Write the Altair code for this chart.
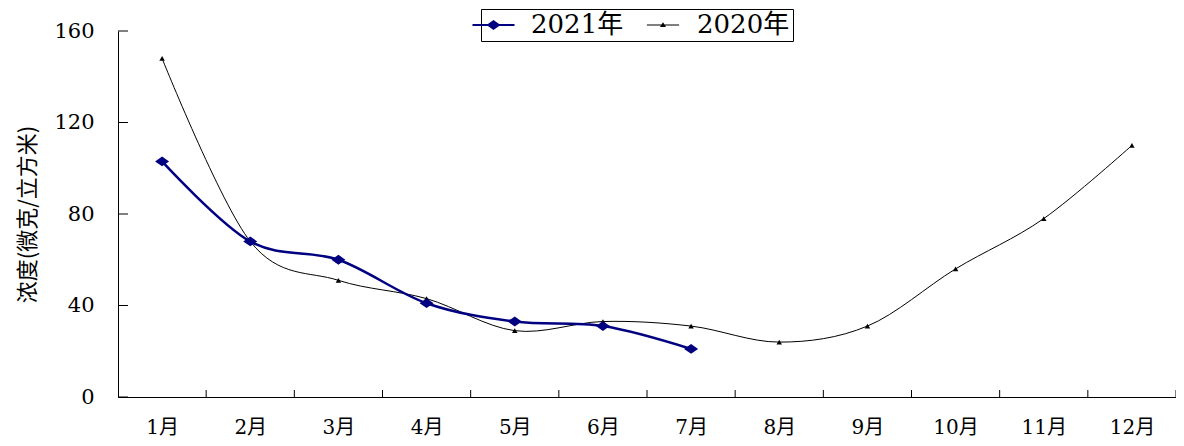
import altair as alt
import pandas as pd

months = ["1月", "2月", "3月", "4月", "5月", "6月", "7月", "8月", "9月", "10月", "11月", "12月"]
series_names = ["2021年", "2020年"]
v2021 = [103, 68, 60, 41, 33, 31, 21]
v2020 = [148, 68, 51, 43, 29, 33, 31, 24, 31, 56, 78, 110]
y_ticks = [0, 40, 80, 120, 160]
band_edges = list(range(1, 13))

rows = []
for i, v in enumerate(v2021):
    rows.append({"x": i + 0.5, "v": v, "series": series_names[0]})
for i, v in enumerate(v2020):
    rows.append({"x": i + 0.5, "v": v, "series": series_names[1]})
df = pd.DataFrame(rows)

W, H = 1058, 366
SERIF = "DejaVu Serif, Noto Sans CJK SC"
NAVY = "#000080"

diamond = "M-1,0L0,-0.7L1,0L0,0.7Z"
leg2021 = "M-3.5,-0.15L2.5,-0.15L2.5,0.15L-3.5,0.15Z M-1.5,0L-0.5,-0.7L0.5,0L-0.5,0.7Z"
leg2020 = "M-2.3,-0.07L2.3,-0.07L2.3,0.07L-2.3,0.07Z M0,-0.4L0.43,0.3L-0.43,0.3Z"

label_expr = "[" + ",".join("'" + m + "'" for m in months) + "][floor(datum.value)]"

x_enc = alt.X(
    "x:Q",
    scale=alt.Scale(domain=[0, 12], nice=False, zero=False),
    axis=alt.Axis(
        values=[i + 0.5 for i in range(12)], labelExpr=label_expr, ticks=False, grid=False,
        title=None, labelPadding=20, domainColor="black", labelFont=SERIF, labelFontSize=20,
        labelColor="black", labelFlush=False,
    ),
)
y_enc = alt.Y(
    "v:Q",
    scale=alt.Scale(domain=[0, 160], nice=False),
    axis=alt.Axis(
        values=y_ticks, ticks=False, grid=False, title="浓度(微克/立方米)",
        labelPadding=24, titlePadding=14, domainColor="black", labelFont=SERIF,
        labelFontSize=21, labelColor="black", titleFont="Noto Sans CJK SC",
        titleFontSize=22, titleFontWeight="normal", titleColor="black",
    ),
)

base = alt.Chart(df)

line21 = base.transform_filter(alt.datum.series == series_names[0]).mark_line(
    interpolate="cardinal", strokeWidth=2.5, color=NAVY
).encode(x=x_enc, y=y_enc)
line20 = base.transform_filter(alt.datum.series == series_names[1]).mark_line(
    interpolate="cardinal", strokeWidth=1, color="black"
).encode(x=x_enc, y=y_enc)
pts21 = base.transform_filter(alt.datum.series == series_names[0]).mark_point(
    shape=diamond, filled=True, size=196, color=NAVY, opacity=1
).encode(x=x_enc, y=y_enc)
pts20 = base.transform_filter(alt.datum.series == series_names[1]).mark_point(
    shape="triangle-up", filled=True, size=30, color="black", opacity=1
).encode(x=x_enc, y=y_enc)

leg = alt.Legend(
    orient="none", legendX=363, legendY=-22, direction="horizontal", title=None,
    strokeColor="black", padding=3, symbolSize=196, labelFont=SERIF, labelFontSize=26,
    labelColor="black", labelOffset=21, columnPadding=22, symbolStrokeWidth=0, labelLimit=300,
)
legend_layer = base.transform_filter("false").mark_point(filled=True, opacity=1).encode(
    x=x_enc, y=y_enc,
    color=alt.Color("series:N", scale=alt.Scale(domain=series_names, range=[NAVY, "black"]), legend=leg),
    shape=alt.Shape("series:N", scale=alt.Scale(domain=series_names, range=[leg2021, leg2020]), legend=leg),
)

yt = alt.Chart(pd.DataFrame({"v": y_ticks})).mark_rule(color="black", strokeWidth=1).encode(
    y=y_enc, x=alt.value(0), x2=alt.value(10)
)
xt = alt.Chart(pd.DataFrame({"x": band_edges})).mark_rule(color="black", strokeWidth=1).encode(
    x=x_enc, y=alt.value(H - 7), y2=alt.value(H)
)

chart = alt.layer(line20, line21, pts20, pts21, legend_layer, yt, xt).properties(
    width=W, height=H,
    autosize=alt.AutoSizeParams(type="none"),
    padding={"left": 110, "top": 23, "right": 0, "bottom": 42},
).configure(background="white").configure_view(stroke=None)

chart.save("out.html", embed_options={"renderer": "svg", "actions": False})
